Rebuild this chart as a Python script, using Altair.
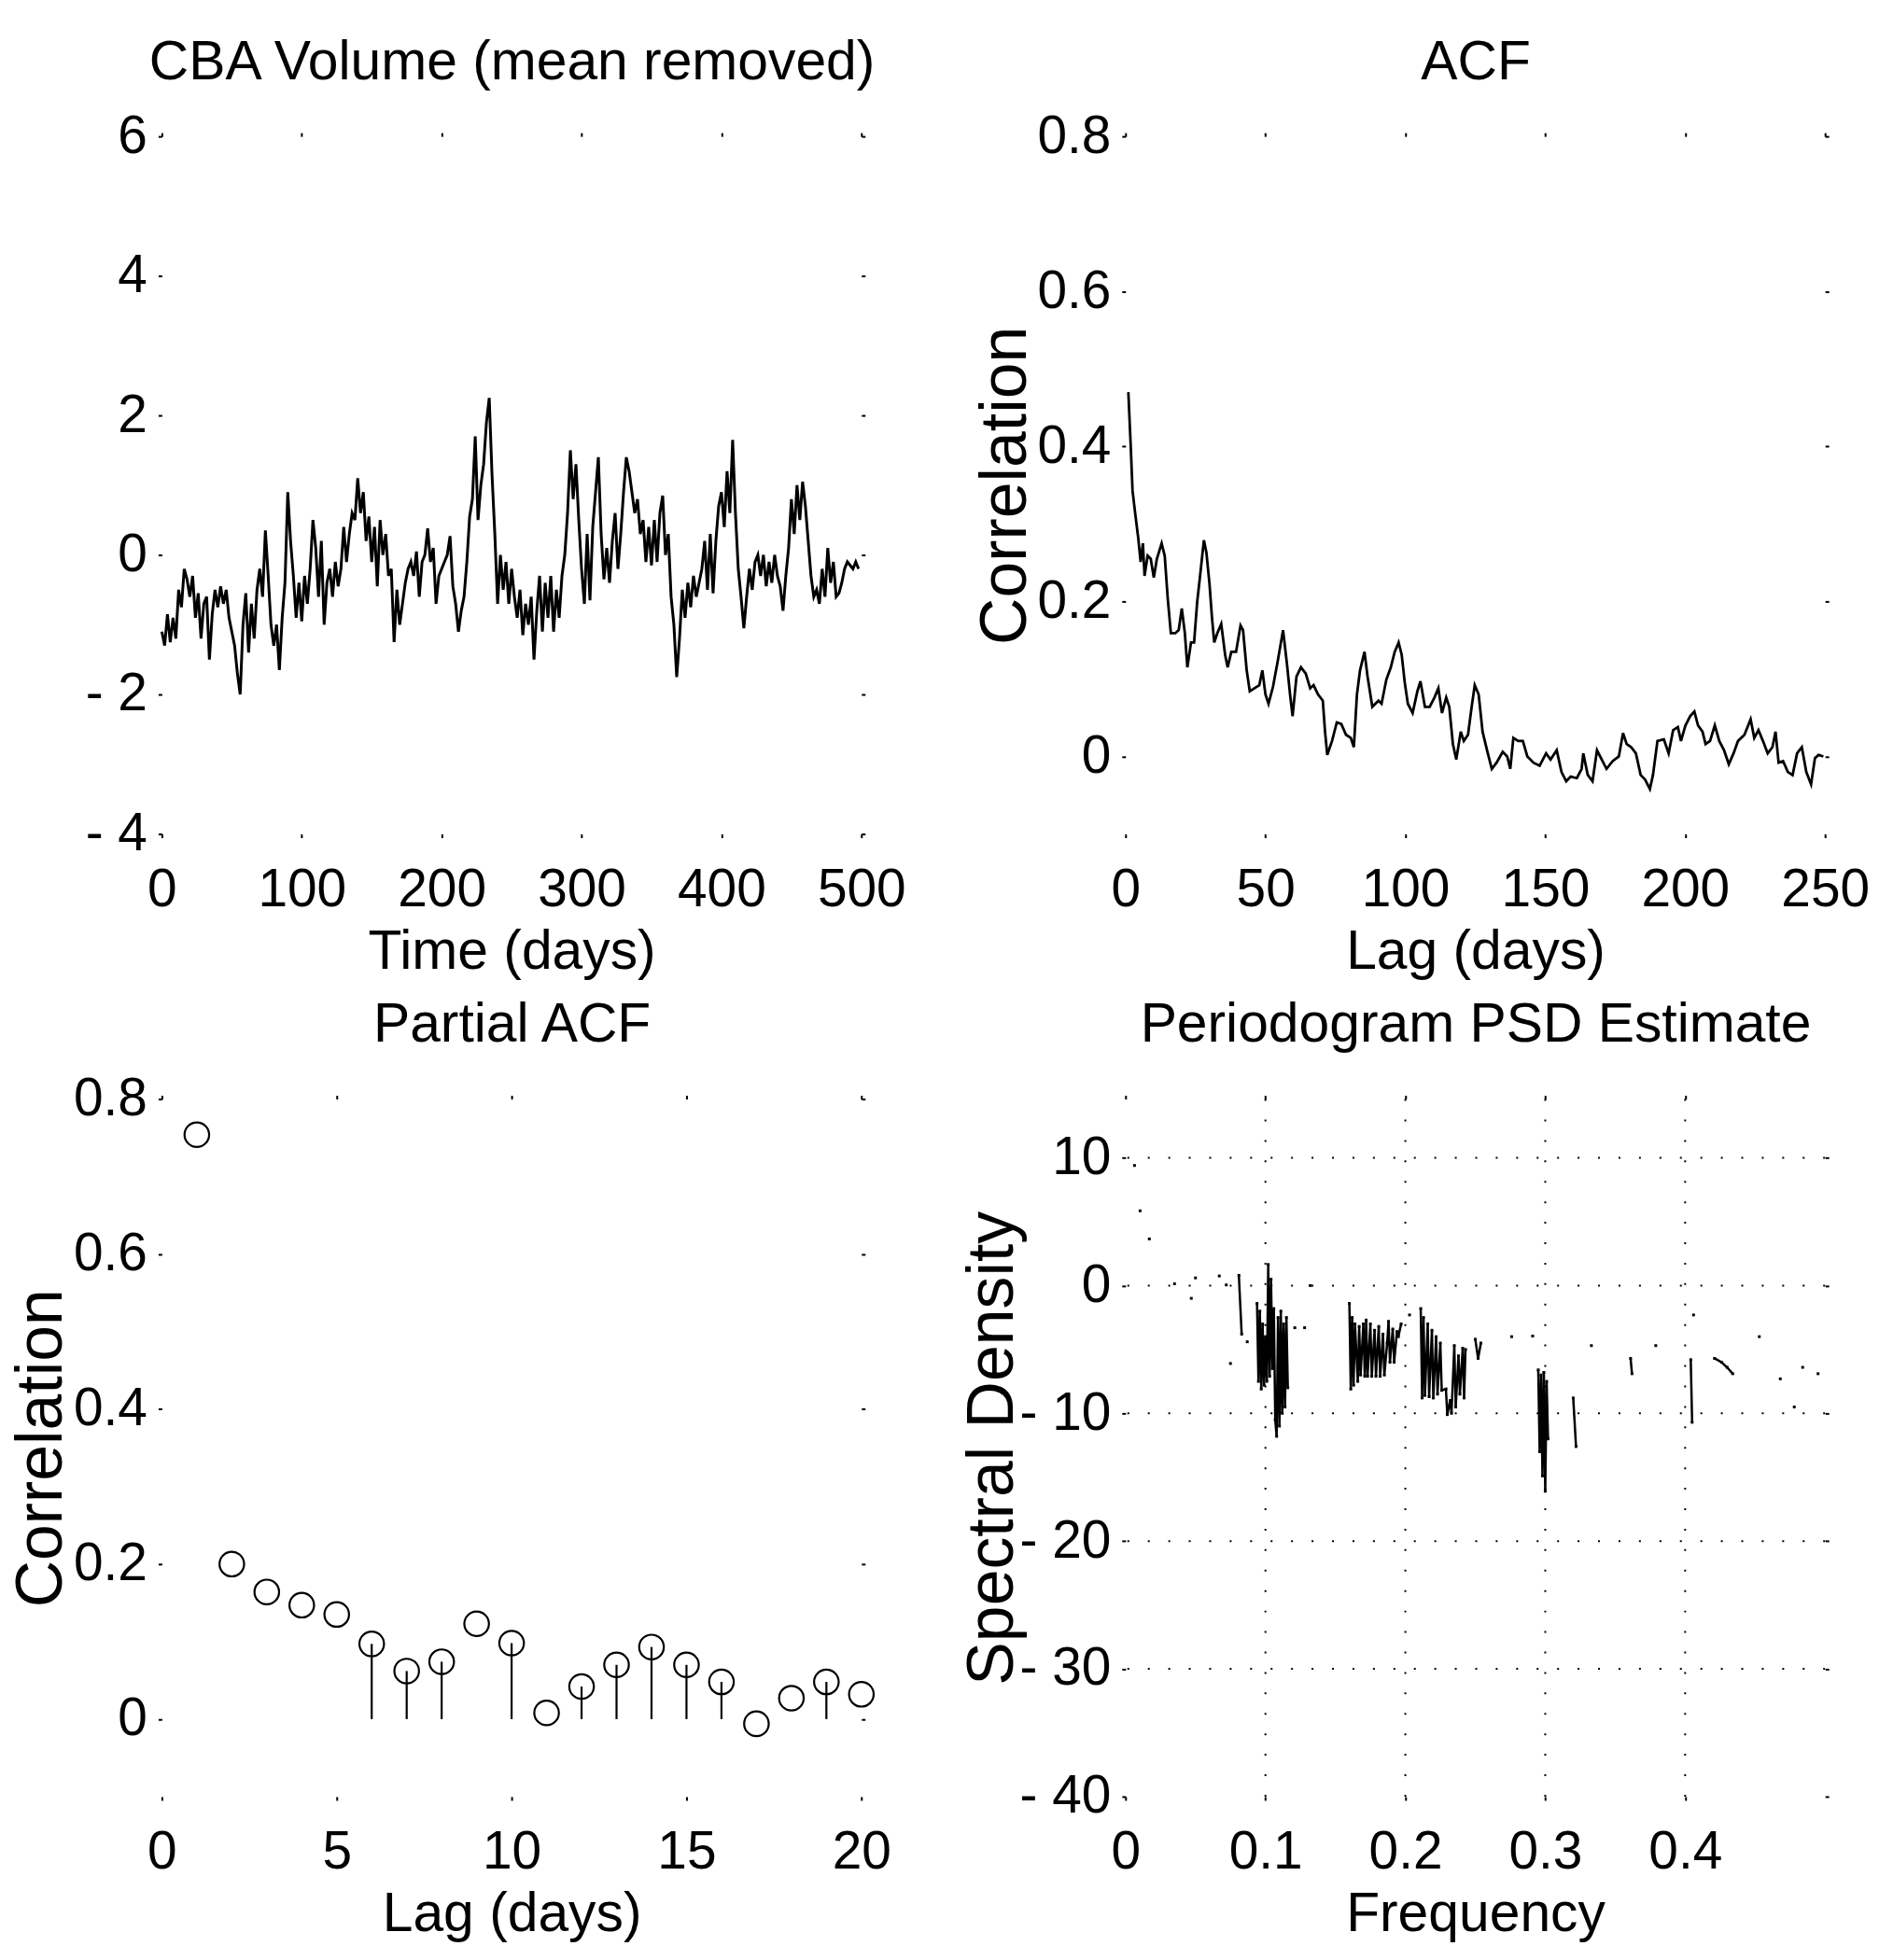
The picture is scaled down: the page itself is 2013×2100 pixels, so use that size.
import altair as alt
import pandas as pd

# ---------------- data ----------------
# Panel 1: CBA volume (mean removed), sampled every 2 days
TS_DAYS = list(range(0, 500, 2))
TS_VALUES = [
    -1.1, -1.3, -0.85, -1.25, -0.9, -1.2, -0.5, -0.75, -0.2, -0.35,
    -0.6, -0.3, -0.9, -0.55, -1.2, -0.7, -0.6, -1.5, -0.85, -0.5,
    -0.75, -0.45, -0.7, -0.5, -0.9, -1.1, -1.3, -1.7, -2.0, -1.0,
    -0.55, -1.4, -0.7, -1.2, -0.5, -0.2, -0.6, 0.35, -0.3, -1.0,
    -1.3, -1.0, -1.65, -0.9, -0.4, 0.9, 0.2, -0.3, -0.9, -0.4,
    -0.95, -0.3, -0.7, -0.2, 0.5, 0.1, -0.6, 0.2, -1.0, -0.4,
    -0.2, -0.6, -0.1, -0.45, -0.2, 0.4, -0.1, 0.3, 0.6, 0.5,
    1.1, 0.6, 0.9, 0.2, 0.55, -0.1, 0.4, -0.45, 0.5, 0.0,
    0.3, -0.3, -0.2, -1.25, -0.5, -1.0, -0.7, -0.4, -0.2, -0.1,
    -0.3, 0.05, -0.6, -0.1, 0.0, 0.38, -0.1, 0.1, -0.7, -0.3,
    -0.2, -0.1, 0.0, 0.27, -0.45, -0.7, -1.1, -0.8, -0.6, -0.1,
    0.55, 0.8, 1.7, 0.5, 1.0, 1.3, 1.9, 2.25, 1.15, 0.3,
    -0.7, 0.0, -0.5, -0.1, -0.7, -0.2, -0.6, -0.9, -0.5, -1.15,
    -0.7, -1.0, -0.6, -1.5, -0.8, -0.3, -1.1, -0.4, -0.9, -0.3,
    -1.1, -0.5, -0.9, -0.3, 0.0, 0.6, 1.5, 0.8, 1.3, 0.5,
    -0.2, -0.7, 0.3, -0.65, 0.4, 0.9, 1.4, 0.3, -0.35, 0.1,
    -0.4, 0.2, 0.6, -0.2, 0.3, 0.9, 1.4, 1.2, 0.9, 0.6,
    0.8, 0.3, 0.5, -0.1, 0.4, -0.15, 0.5, -0.1, 0.6, 0.85,
    0.0, 0.3, -0.6, -1.0, -1.75, -1.2, -0.5, -0.9, -0.4, -0.75,
    -0.3, -0.6, -0.4, -0.2, 0.2, -0.5, 0.3, -0.55, 0.2, 0.7,
    0.9, 0.4, 1.2, 0.6, 1.65, 0.6, -0.2, -0.6, -1.05, -0.6,
    -0.2, -0.5, -0.1, 0.0, -0.3, 0.0, -0.45, -0.1, -0.4, 0.0,
    -0.3, -0.45, -0.8, -0.3, 0.1, 0.8, 0.3, 1.0, 0.5, 1.05,
    0.7, 0.2, -0.3, -0.6, -0.5, -0.7, -0.2, -0.6, 0.1, -0.4,
    -0.1, -0.6, -0.55, -0.4, -0.2, -0.1, -0.15, -0.2, -0.1, -0.2,
]

# Panel 2: ACF
ACF_LAGS = [
    1, 1.8, 2.5, 3.4, 4.5, 5.4, 6.2, 6.8, 7.9, 9, 10.1, 11.2, 12.9, 14, 15.1,
    16.2, 17.8, 19, 20.1, 21.2, 22.1, 23.4, 24.5, 25.6, 26.7, 28, 28.9, 30,
    30.9, 31.7, 32.8, 34.2, 35.6, 36.5, 37.8, 39.5, 41.1, 42, 43.3, 44.4, 46.1,
    47.8, 48.9, 50, 51.1, 52.7, 54.4, 56.3, 57.7, 58.8, 59.7, 61.1, 62.7, 64.4,
    66, 67.2, 68.8, 70.5, 71.3, 72.1, 73.8, 75.5, 77.1, 78.8, 80.5, 81.6, 82.7,
    83.8, 85.4, 86.5, 88.2, 90.4, 91.5, 93.2, 94.8, 96.2, 97.6, 98.7, 99.8,
    100.9, 102.6, 104.3, 105.4, 107, 108.7, 110.4, 111.8, 113.1, 114.6, 115.7,
    117, 118.2, 119.8, 120.9, 122.4, 123.7, 124.8, 126.2, 127.6, 129.2, 130.9,
    132.6, 134.8, 136.4, 137.5, 138.6, 140.3, 142, 143.6, 145.8, 148, 150.3,
    151.9, 154.1, 155.8, 157.5, 159.1, 161.3, 163, 163.6, 165.2, 166.9, 168.5,
    170.2, 171.9, 174.1, 176.3, 177.8, 179.1, 180.7, 182.4, 184.1, 185.7, 187.4,
    188.5, 190.1, 192.4, 194.1, 195.7, 197.4, 198.5, 200.1, 201.8, 203.3, 204.6,
    206.2, 207.3, 208.9, 210.6, 212.2, 213.9, 215.6, 217.3, 218.9, 221.2, 223.4,
    224.7, 226.2, 227.8, 229.5, 231.2, 232.3, 233.4, 235, 236.7, 238.4, 240,
    241.7, 243.3, 245, 246.4, 247.7, 249.4,
]
ACF_VALUES = [
    0.47, 0.405, 0.343, 0.315, 0.283, 0.251, 0.275, 0.233, 0.259, 0.255, 0.231,
    0.255, 0.275, 0.259, 0.203, 0.159, 0.159, 0.163, 0.191, 0.159, 0.115, 0.147,
    0.147, 0.199, 0.235, 0.279, 0.263, 0.223, 0.179, 0.147, 0.159, 0.171, 0.131,
    0.115, 0.135, 0.135, 0.169, 0.163, 0.111, 0.084, 0.088, 0.092, 0.111, 0.080,
    0.068, 0.090, 0.123, 0.163, 0.119, 0.080, 0.052, 0.103, 0.115, 0.107, 0.088,
    0.092, 0.080, 0.072, 0.032, 0.002, 0.020, 0.044, 0.042, 0.028, 0.024, 0.012,
    0.080, 0.111, 0.135, 0.103, 0.064, 0.072, 0.068, 0.099, 0.115, 0.135, 0.147,
    0.131, 0.095, 0.068, 0.056, 0.084, 0.097, 0.064, 0.064, 0.076, 0.088, 0.056,
    0.076, 0.064, 0.016, -0.004, 0.032, 0.020, 0.028, 0.064, 0.092, 0.080, 0.032,
    0.008, -0.016, -0.008, 0.006, 0.000, -0.016, 0.024, 0.020, 0.020, 0.000,
    -0.008, -0.012, 0.004, -0.004, 0.008, -0.020, -0.032, -0.026, -0.028, -0.016,
    0.004, -0.024, -0.032, 0.008, -0.004, -0.016, -0.006, 0.000, 0.030, 0.016,
    0.012, 0.004, -0.024, -0.030, -0.042, -0.024, 0.020, 0.022, 0.004, 0.034,
    0.038, 0.020, 0.040, 0.052, 0.058, 0.040, 0.032, 0.016, 0.020, 0.040, 0.020,
    0.008, -0.010, 0.004, 0.020, 0.028, 0.048, 0.024, 0.034, 0.020, 0.004, 0.012,
    0.032, -0.008, -0.006, -0.020, -0.024, 0.004, 0.012, -0.020, -0.036, -0.002,
    0.002, 0.000,
]

# Panel 3: partial ACF (stem plot); stems are drawn where the reference shows them
PACF_LAGS = list(range(1, 21))
PACF_VALUES = [0.754, 0.200, 0.164, 0.147, 0.135, 0.097, 0.062, 0.074, 0.123, 0.098,
               0.008, 0.042, 0.070, 0.093, 0.070, 0.048, -0.006, 0.027, 0.048, 0.032]
PACF_STEM_SHOWN = [False, False, False, False, False, True, True, True, False, True,
                   False, True, True, True, True, True, False, False, True, False]

# Panel 4: periodogram PSD estimate (dB) -- the visible fragments, grouped by piece
PSD_FREQ = [
    0.0064, 0.0104, 0.017, 0.035, 0.047, 0.050, 0.067, 0.072, 0.075, 0.081, 0.083, 0.087,
    0.094, 0.095, 0.096, 0.097, 0.098, 0.099, 0.100, 0.101, 0.102, 0.103, 0.104, 0.105,
    0.106, 0.107, 0.108, 0.109, 0.110, 0.111, 0.112, 0.113, 0.114, 0.115, 0.116,
    0.121, 0.128, 0.132,
    0.160, 0.161, 0.162, 0.163, 0.164, 0.166, 0.167, 0.168, 0.170, 0.171, 0.172, 0.173,
    0.175, 0.176, 0.178, 0.179, 0.181, 0.182, 0.184, 0.185, 0.187, 0.188, 0.189, 0.191,
    0.192, 0.194, 0.195, 0.197, 0.203,
    0.211, 0.212, 0.213, 0.214, 0.216, 0.217, 0.219, 0.220, 0.222, 0.223, 0.225, 0.226,
    0.229, 0.230, 0.232, 0.233, 0.235, 0.236, 0.238, 0.239, 0.241, 0.242, 0.243,
    0.250, 0.252, 0.254, 0.276, 0.291,
    0.295, 0.296, 0.297, 0.298, 0.299, 0.300, 0.301, 0.302,
    0.320, 0.322, 0.333, 0.361, 0.362, 0.379, 0.404, 0.405, 0.406, 0.421, 0.426, 0.430,
    0.434, 0.453, 0.468, 0.478, 0.484, 0.495,
]
PSD_DB = [
    9.4, 5.85, 3.65, 0.14, -1.0, 0.6, 0.75, 0.05, -6.1, 0.8, -3.8, -4.4,
    -1.4, -7.5, -2.0, -8.1, -3.0, -7.8, -4.0, -7.5, 1.65, -7.1, 0.5, -6.5,
    -1.8, -10.5, -11.8, -2.5, -11.0, -2.0, -10.0, -3.0, -9.5, -2.5, -8.0,
    -3.3, -3.3, 0.0,
    -1.4, -8.1, -2.5, -7.8, -3.0, -7.5, -3.2, -7.0, -3.0, -7.1, -2.7, -7.1,
    -3.0, -7.1, -3.5, -7.1, -3.2, -7.1, -3.8, -7.0, -4.5, -2.8, -6.0, -3.4,
    -6.0, -3.6, -4.0, -3.0, -2.3,
    -1.8, -8.8, -2.5, -8.6, -3.0, -8.7, -3.5, -8.8, -4.0, -8.5, -4.5, -8.2,
    -8.1, -10.1, -9.0, -10.0, -4.7, -9.5, -5.5, -8.5, -4.9, -8.8, -5.0,
    -4.2, -5.7, -4.5, -4.0, -3.95,
    -6.6, -13.0, -7.0, -14.9, -6.8, -16.1, -7.5, -12.0,
    -8.8, -12.6, -4.7, -5.7, -6.9, -4.7, -5.8, -10.7, -2.3, -5.7, -6.0, -6.4,
    -6.9, -4.0, -7.3, -9.5, -6.4, -6.9,
]
PSD_PIECE = [
    1, 2, 3, 4, 5, 6, 7, 8, 9, 10, 10, 11,
    12, 12, 12, 12, 12, 12, 12, 12, 12, 12, 12, 12,
    12, 12, 12, 12, 12, 12, 12, 12, 12, 12, 12,
    13, 14, 15,
    16, 16, 16, 16, 16, 16, 16, 16, 16, 16, 16, 16,
    16, 16, 16, 16, 16, 16, 16, 16, 16, 16, 16, 16,
    16, 16, 16, 16, 17,
    18, 18, 18, 18, 18, 18, 18, 18, 18, 18, 18, 18,
    18, 18, 18, 18, 18, 18, 18, 18, 18, 18, 18,
    19, 19, 19, 20, 21,
    22, 22, 22, 22, 22, 22, 22, 22,
    23, 23, 24, 25, 25, 26, 27, 27, 28, 29, 29, 29,
    29, 30, 31, 32, 33, 34,
]
PSD_GRID_F = [0.1, 0.2, 0.3, 0.4]
PSD_GRID_DB = [-30, -20, -10, 0, 10]

# tick values
P1_XT = [0, 100, 200, 300, 400, 500]
P1_YT = [-4, -2, 0, 2, 4, 6]
P2_XT = [0, 50, 100, 150, 200, 250]
P2_YT = [0, 0.2, 0.4, 0.6, 0.8]
P3_XT = [0, 5, 10, 15, 20]
P3_YT = [0, 0.2, 0.4, 0.6, 0.8]
P4_XT = [0, 0.1, 0.2, 0.3, 0.4]
P4_YT = [-40, -30, -20, -10, 0, 10]

# ---------------- styling ----------------
FONT = "Liberation Sans, Arial, Helvetica, sans-serif"
W, H = 752, 750
TICK_FS = 57
TXT_FS = 59
YTITLE_FS = 70
NEG_EXPR = "datum.value < 0 ? '- ' + abs(datum.value) : datum.label"


def x_axis(values, title, fmt=None, expr=None):
    kw = dict(values=values, orient="bottom", domain=False, grid=False,
              tickSize=4, tickWidth=2, tickColor="black",
              labelFont=FONT, labelFontSize=TICK_FS, labelColor="black",
              labelBaseline="alphabetic", labelPadding=73,
              labelFlush=False, labelOverlap=False,
              titleFont=FONT, titleFontSize=TXT_FS, titleFontWeight="normal",
              titleColor="black", titleBaseline="alphabetic", titleY=144,
              title=title)
    if fmt:
        kw["format"] = fmt
    if expr:
        kw["labelExpr"] = expr
    return alt.Axis(**kw)


def y_axis(values, title=None, fmt=None, expr=None, title_x=-108):
    kw = dict(values=values, orient="left", domain=False, grid=False,
              tickSize=4, tickWidth=2, tickColor="black",
              labelFont=FONT, labelFontSize=TICK_FS, labelColor="black",
              labelPadding=12, labelFlush=False, labelOverlap=False,
              labelBaseline="middle",
              titleFont=FONT, titleFontSize=YTITLE_FS, titleFontWeight="normal",
              titleColor="black", titleBaseline="alphabetic", titleX=title_x)
    kw["title"] = title if title else None
    if fmt:
        kw["format"] = fmt
    if expr:
        kw["labelExpr"] = expr
    return alt.Axis(**kw)


def mirror_layer(df, xf, yf, xs, ys, xv, yv, panel_title):
    # top axis carries the panel title; top/right axes carry the box tick marks
    return alt.Chart(df).mark_point(opacity=0).encode(
        x=alt.X(xf, scale=xs, axis=alt.Axis(
            orient="top", values=xv, labels=False, domain=False, grid=False,
            tickSize=4, tickWidth=2, tickColor="black",
            title=panel_title, titleFont=FONT, titleFontSize=TXT_FS,
            titleFontWeight="normal", titleColor="black",
            titleBaseline="alphabetic", titleY=-62)),
        y=alt.Y(yf, scale=ys, axis=alt.Axis(
            orient="right", values=yv, labels=False, title=None,
            domain=False, grid=False, tickSize=4, tickWidth=2, tickColor="black")),
    )


# ---------------- panel 1 ----------------
ts = pd.DataFrame({"day": TS_DAYS, "v": TS_VALUES})
xs1 = alt.Scale(domain=[0, 500], nice=False, zero=False)
ys1 = alt.Scale(domain=[-4, 6], nice=False, zero=False)
p1 = alt.layer(
    alt.Chart(ts).mark_line(color="black", strokeWidth=3).encode(
        x=alt.X("day:Q", scale=xs1, axis=x_axis(P1_XT, "Time (days)")),
        y=alt.Y("v:Q", scale=ys1, axis=y_axis(P1_YT, None, expr=NEG_EXPR)),
    ),
    mirror_layer(ts, "day:Q", "v:Q", xs1, ys1, P1_XT, P1_YT, "CBA Volume (mean removed)"),
).resolve_axis(x="independent", y="independent").properties(width=W, height=H)

# ---------------- panel 2 ----------------
acf = pd.DataFrame({"lag": ACF_LAGS, "r": ACF_VALUES})
xs2 = alt.Scale(domain=[0, 250], nice=False, zero=False)
ys2 = alt.Scale(domain=[-0.1, 0.8], nice=False, zero=False)
p2 = alt.layer(
    alt.Chart(acf).mark_line(color="black", strokeWidth=2.8).encode(
        x=alt.X("lag:Q", scale=xs2, axis=x_axis(P2_XT, "Lag (days)")),
        y=alt.Y("r:Q", scale=ys2, axis=y_axis(P2_YT, "Correlation", fmt=".1~f")),
    ),
    mirror_layer(acf, "lag:Q", "r:Q", xs2, ys2, P2_XT, P2_YT, "ACF"),
).resolve_axis(x="independent", y="independent").properties(width=W, height=H)

# ---------------- panel 3 ----------------
pacf = pd.DataFrame({"lag": PACF_LAGS, "r": PACF_VALUES,
                     "base": [0] * len(PACF_LAGS), "stem": PACF_STEM_SHOWN})
xs3 = alt.Scale(domain=[0, 20], nice=False, zero=False)
ys3 = alt.Scale(domain=[-0.1, 0.8], nice=False, zero=False)
p3 = alt.layer(
    alt.Chart(pacf).mark_point(shape="circle", filled=False, size=700, strokeWidth=2.2,
                               color="black", opacity=1).encode(
        x=alt.X("lag:Q", scale=xs3, axis=x_axis(P3_XT, "Lag (days)")),
        y=alt.Y("r:Q", scale=ys3, axis=y_axis(P3_YT, "Correlation", fmt=".1~f")),
    ),
    alt.Chart(pacf).transform_filter("datum.stem").mark_rule(color="black", strokeWidth=2.2).encode(
        x=alt.X("lag:Q", scale=xs3, axis=None),
        y=alt.Y("base:Q", scale=ys3, axis=None),
        y2="r:Q",
    ),
    mirror_layer(pacf, "lag:Q", "r:Q", xs3, ys3, P3_XT, P3_YT, "Partial ACF"),
).resolve_axis(x="independent", y="independent").properties(width=W, height=H)

# ---------------- panel 4 ----------------
psd = pd.DataFrame({"f": PSD_FREQ, "db": PSD_DB, "piece": PSD_PIECE})
gx = pd.DataFrame({"f": PSD_GRID_F})
gy = pd.DataFrame({"db": PSD_GRID_DB})
xs4 = alt.Scale(domain=[0, 0.5], nice=False, zero=False)
ys4 = alt.Scale(domain=[-40, 14.6], nice=False, zero=False)
grid_style = dict(color="black", strokeWidth=2, strokeDash=[2, 20])
p4 = alt.layer(
    alt.Chart(psd).mark_line(color="black", strokeWidth=2.5).encode(
        x=alt.X("f:Q", scale=xs4, axis=x_axis(P4_XT, "Frequency", fmt=".1~f")),
        y=alt.Y("db:Q", scale=ys4, axis=y_axis(P4_YT, "Spectral Density", expr=NEG_EXPR,
                                                title_x=-122)),
        detail="piece:N",
    ),
    alt.Chart(psd).mark_square(color="black", size=9, opacity=1).encode(
        x=alt.X("f:Q", scale=xs4, axis=None),
        y=alt.Y("db:Q", scale=ys4, axis=None),
    ),
    alt.Chart(gx).mark_rule(**grid_style).encode(x=alt.X("f:Q", scale=xs4, axis=None)),
    alt.Chart(gy).mark_rule(**grid_style).encode(y=alt.Y("db:Q", scale=ys4, axis=None)),
    mirror_layer(psd, "f:Q", "db:Q", xs4, ys4, P4_XT, P4_YT, "Periodogram PSD Estimate"),
).resolve_axis(x="independent", y="independent").properties(width=W, height=H)

chart = alt.concat(
    p1, p2, p3, p4, columns=2, spacing={"row": 285, "column": 284}, bounds="flush"
).properties(
    padding={"left": 10, "top": 34, "right": 10, "bottom": 5},
    background="white",
).configure_view(stroke=None)

chart.save("out.html", embed_options={"renderer": "svg", "actions": False})
